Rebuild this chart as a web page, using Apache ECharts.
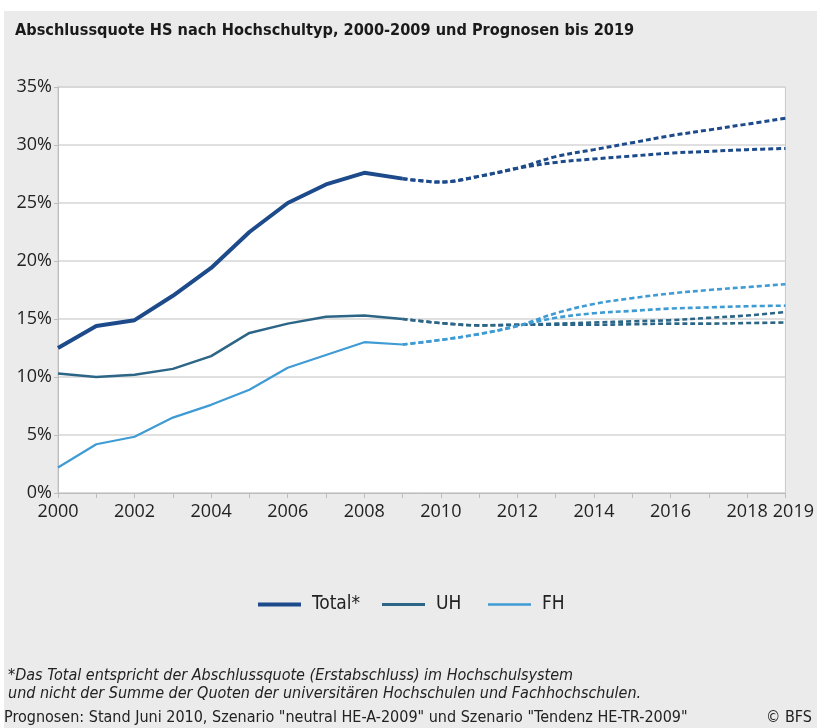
<!DOCTYPE html>
<html>
<head>
<meta charset="utf-8">
<script src="https://cdn.jsdelivr.net/npm/echarts@6/dist/echarts.min.js"></script>
<style>
html,body{margin:0;padding:0;background:#ffffff;}
#chart{position:absolute;left:4px;top:11px;width:813px;height:717px;}
</style>
</head>
<body>
<div id="chart"></div>
<script>
const years = ['2000','2001','2002','2003','2004','2005','2006','2007','2008','2009','2010','2011','2012','2013','2014','2015','2016','2017','2018','2019'];
const xTickLabels = ['2000','2002','2004','2006','2008','2010','2012','2014','2016','2018','2019'];
const yTickValues = [0,5,10,15,20,25,30,35];

// observed 2000-2009
const totalObs = [12.5,14.4,14.9,17.0,19.4,22.5,25.0,26.6,27.6,27.1,null,null,null,null,null,null,null,null,null,null];
const uhObs    = [10.3,10.0,10.2,10.7,11.8,13.8,14.6,15.2,15.3,15.0,null,null,null,null,null,null,null,null,null,null];
const fhObs    = [2.2,4.2,4.85,6.5,7.6,8.9,10.8,11.9,13.0,12.8,null,null,null,null,null,null,null,null,null,null];

// projections 2009-2019, two scenarios each
const totalProjA = [null,null,null,null,null,null,null,null,null,27.1,26.8,27.3,28.0,29.0,29.6,30.2,30.8,31.3,31.8,32.3];
const totalProjB = [null,null,null,null,null,null,null,null,null,27.1,26.8,27.3,28.0,28.5,28.8,29.05,29.3,29.45,29.6,29.7];
const uhProjA    = [null,null,null,null,null,null,null,null,null,15.0,14.65,14.45,14.5,14.6,14.7,14.8,14.9,15.1,15.3,15.6];
const uhProjB    = [null,null,null,null,null,null,null,null,null,15.0,14.65,14.45,14.5,14.5,14.5,14.55,14.6,14.6,14.65,14.7];
const fhProjA    = [null,null,null,null,null,null,null,null,null,12.8,13.2,13.7,14.4,15.5,16.3,16.8,17.2,17.5,17.75,18.0];
const fhProjB    = [null,null,null,null,null,null,null,null,null,12.8,13.2,13.7,14.4,15.1,15.5,15.7,15.9,16.0,16.1,16.15];

const seriesNames = ['Total*','UH','FH'];
const colTotal = '#1d4a8a', colUH = '#2c6586', colFH = '#3e9bd4';
const condensed = "'DejaVu Sans Condensed', 'Liberation Sans Narrow', Roboto, sans-serif";

const chart = echarts.init(document.getElementById('chart'));

function solid(name, data, color, width){
  return {name:name, type:'line', data:data, symbol:'none', color:color,
    lineStyle:{color:color, width:width}, connectNulls:false, z:3};
}
function dashed(name, data, color, width){
  return {name:name, type:'line', data:data, symbol:'none', color:color, smooth:0.35,
    lineStyle:{color:color, width:width, type:[5,3]}, connectNulls:false, z:2};
}
function legendFor(name, left, h){
  return {data:[name], left:left, top:584, padding:0, icon:'rect', itemWidth:43, itemHeight:h,
    textStyle:{fontFamily:condensed, fontSize:19, color:'#222', padding:[0,0,0,6]}, selectedMode:false};
}

chart.setOption({
  backgroundColor:'#ebebeb',
  animation:false,
  title:{
    text:'Abschlussquote HS nach Hochschultyp, 2000-2009 und Prognosen bis 2019',
    left:6, top:7,
    textStyle:{fontFamily:condensed, fontWeight:'bold', fontSize:16.2, color:'#1a1a1a'}
  },
  grid:{left:54, top:76, right:30, bottom:235, show:true, backgroundColor:'#ffffff', borderColor:'#c8c8c8', borderWidth:1, containLabel:false},
  legend:[
    legendFor(seriesNames[0], 254, 4),
    legendFor(seriesNames[1], 378, 3),
    legendFor(seriesNames[2], 484, 2.5)
  ],
  xAxis:{
    type:'category', data:years, boundaryGap:false,
    axisLine:{lineStyle:{color:'#bdbdbd'}},
    axisTick:{show:true, interval:0, length:5, lineStyle:{color:'#bdbdbd'}},
    axisLabel:{interval:0, margin:10, fontFamily:'Open Sans', fontSize:18, color:'#222',
      formatter:function(v, i){
        if (xTickLabels.indexOf(v) < 0) return '';
        return i === years.length - 1 ? '{r|' + v + '}' : v;
      },
      rich:{r:{fontFamily:'Open Sans', fontSize:18, color:'#222', padding:[0,0,0,16]}}
    },
    splitLine:{show:false}
  },
  yAxis:{
    type:'value', min:yTickValues[0], max:yTickValues[yTickValues.length-1], interval:5,
    axisLine:{show:true, lineStyle:{color:'#bdbdbd'}},
    axisTick:{show:true, length:4, lineStyle:{color:'#bdbdbd'}},
    axisLabel:{margin:6, fontFamily:'Open Sans', fontSize:18, color:'#222', formatter:'{value}%'},
    splitLine:{lineStyle:{color:'#d6d6d6', width:1.5}}
  },
  series:[
    dashed('UH_A', uhProjA, colUH, 2.6),
    dashed('UH_B', uhProjB, colUH, 2.6),
    dashed('FH_A', fhProjA, colFH, 2.6),
    dashed('FH_B', fhProjB, colFH, 2.6),
    dashed('Total_A', totalProjA, colTotal, 3),
    dashed('Total_B', totalProjB, colTotal, 3),
    solid('UH', uhObs, colUH, 2.5),
    solid('FH', fhObs, colFH, 2.2),
    solid('Total*', totalObs, colTotal, 4)
  ],
  graphic:[
    {type:'text', left:4, top:657, style:{text:'*Das Total entspricht der Abschlussquote (Erstabschluss) im Hochschulsystem', fontFamily:condensed, fontStyle:'italic', fontSize:16, fill:'#222'}},
    {type:'text', left:4, top:675, style:{text:'und nicht der Summe der Quoten der universitären Hochschulen und Fachhochschulen.', fontFamily:condensed, fontStyle:'italic', fontSize:16, fill:'#222'}},
    {type:'text', left:0, top:699, style:{text:'Prognosen: Stand Juni 2010, Szenario "neutral HE-A-2009" und Szenario "Tendenz HE-TR-2009"', fontFamily:condensed, fontSize:16, fill:'#222'}},
    {type:'text', right:5, top:699, style:{text:'© BFS', fontFamily:condensed, fontSize:16, fill:'#222'}}
  ]
});
</script>
</body>
</html>
